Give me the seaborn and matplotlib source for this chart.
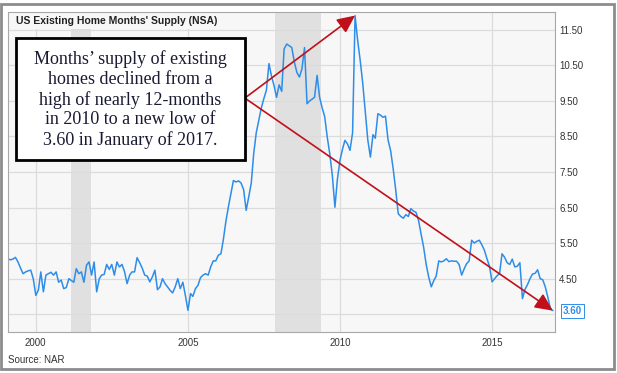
import numpy as np
import pandas as pd
import matplotlib
matplotlib.use("Agg")
import matplotlib.pyplot as plt
import matplotlib.dates as mdates
from matplotlib.patches import Rectangle
import seaborn as sns

# months' supply, NSA, monthly Feb 1999 .. Jan 2017
y1999 = [5.06, 5.03, 5.05, 5.10, 4.97, 4.80, 4.64, 4.69, 4.72, 4.74, 4.50]
y2000 = [4.03, 4.18, 4.69, 4.13, 4.60, 4.64, 4.68, 4.60, 4.69, 4.40, 4.46, 4.22]
y2001 = [4.25, 4.50, 4.45, 4.40, 4.78, 4.64, 4.69, 4.40, 4.88, 4.97, 4.60, 4.97]
y2002 = [4.13, 4.50, 4.60, 4.62, 4.90, 4.76, 4.90, 4.60, 4.97, 4.83, 4.90, 4.70]
y2003 = [4.36, 4.60, 4.69, 4.69, 5.09, 4.95, 4.80, 4.60, 4.57, 4.41, 4.55, 4.74]
y2004 = [4.19, 4.27, 4.50, 4.36, 4.27, 4.17, 4.10, 4.27, 4.50, 4.22, 4.40, 4.03]
y2005 = [3.61, 4.08, 4.00, 4.22, 4.31, 4.53, 4.60, 4.64, 4.60, 4.83, 5.00, 5.00]
y2006 = [5.16, 5.20, 5.58, 6.10, 6.51, 6.89, 7.26, 7.22, 7.25, 7.19, 7.00, 6.42]
y2007 = [6.80, 7.20, 8.00, 8.60, 8.95, 9.30, 9.56, 9.80, 10.55, 10.20, 9.93, 9.60]
y2008 = [9.95, 9.77, 10.96, 11.10, 11.05, 11.00, 10.60, 10.30, 10.17, 10.40, 11.00, 9.42]
y2009 = [9.50, 9.55, 9.60, 10.22, 9.60, 9.30, 9.06, 8.48, 8.00, 7.40, 6.51, 7.30]
y2010 = [7.83, 8.15, 8.39, 8.29, 8.11, 8.60, 11.90, 11.20, 10.63, 10.00, 9.20, 8.40]
y2011 = [7.92, 8.55, 8.45, 9.14, 9.10, 9.04, 9.07, 8.40, 8.10, 7.60, 7.00, 6.33]
y2012 = [6.25, 6.20, 6.30, 6.25, 6.47, 6.40, 6.37, 6.14, 5.75, 5.39, 4.90, 4.55]
y2013 = [4.27, 4.45, 4.57, 5.00, 4.97, 5.00, 5.06, 4.98, 5.00, 4.99, 4.99, 4.90]
y2014 = [4.60, 4.78, 4.92, 5.00, 5.58, 5.50, 5.55, 5.58, 5.45, 5.30, 5.06, 4.85]
y2015 = [4.41, 4.50, 4.58, 4.64, 5.20, 5.10, 4.95, 4.90, 5.05, 4.83, 4.85, 4.95]
y2016 = [3.94, 4.20, 4.33, 4.50, 4.63, 4.65, 4.75, 4.50, 4.47, 4.27, 3.98, 3.66]
y2017 = [3.60]

supply = (y1999 + y2000 + y2001 + y2002 + y2003 + y2004 + y2005 + y2006 + y2007
          + y2008 + y2009 + y2010 + y2011 + y2012 + y2013 + y2014 + y2015
          + y2016 + y2017)
dates = pd.date_range("1999-02-01", periods=len(supply), freq="MS")
df = pd.DataFrame({"date": dates, "supply": supply})

recessions = [("2001-03-01", "2001-10-25"), ("2007-11-10", "2009-05-18")]
y_ticks = [3.5, 4.5, 5.5, 6.5, 7.5, 8.5, 9.5, 10.5, 11.5]
y_labels = ["", "4.50", "5.50", "6.50", "7.50", "8.50", "9.50", "10.50", "11.50"]
x_years = [2000, 2005, 2010, 2015]

note = ("Months\u2019 supply of existing\nhomes declined from a\n"
        "high of nearly 12-months\nin 2010 to a new low of\n"
        "3.60 in January of 2017.")

BLUE = "#2e8de8"
RED = "#c0101a"
GRID = "#dcdcdc"

sns.set_style("white")
plt.rcParams["font.family"] = ["Liberation Sans", "DejaVu Sans"]

fig = plt.figure(figsize=(6.17, 3.73), dpi=100)
fig.patch.set_facecolor("white")
ax = fig.add_axes([8 / 617, 41 / 373, 547 / 617, 320 / 373])
ax.set_facecolor("#f7f7f7")

for start, end in recessions:
    ax.axvspan(pd.Timestamp(start), pd.Timestamp(end), color="#e0e0e0", lw=0, zorder=0.1)

sns.lineplot(data=df, x="date", y="supply", ax=ax, color=BLUE, linewidth=1.1, zorder=2)

ax.set_xlim(pd.Timestamp("1999-02-01"), pd.Timestamp("2017-01-26"))
ax.set_ylim(3.0, 12.0)
ax.set_xticks([pd.Timestamp(f"{y}-01-01") for y in x_years])
ax.xaxis.set_major_formatter(mdates.DateFormatter("%Y"))
ax.set_yticks(y_ticks)
ax.set_yticklabels(y_labels)
ax.yaxis.tick_right()
ax.tick_params(axis="both", length=0, labelsize=7, labelcolor="#333333")
ax.tick_params(axis="x", pad=4)
ax.tick_params(axis="y", pad=3)
ax.set_xlabel("")
ax.set_ylabel("")
ax.grid(True, color=GRID, linewidth=0.9)
ax.set_axisbelow(True)
for s in ax.spines.values():
    s.set_color("#a8a8a8")
    s.set_linewidth(0.8)

# title bar
ax.add_patch(Rectangle((0, 0.947), 0.397, 0.053, transform=ax.transAxes,
                       facecolor="#f7f7f7", edgecolor="none", zorder=1.5))
ax.text(0.0146, 0.972, "US Existing Home Months' Supply (NSA)", transform=ax.transAxes,
        fontsize=7.5, fontweight="bold", color="#222222", va="center", ha="left", zorder=3)

# annotation box + arrows
ax.add_patch(Rectangle((0.0146, 0.5375), 0.4184, 0.3815, transform=ax.transAxes,
                       facecolor="white", edgecolor="black", lw=2, zorder=4))
ax.text(0.224, 0.726, note, transform=ax.transAxes, ha="center", va="center",
        family=["Liberation Serif", "DejaVu Serif"], fontsize=13, color="#1a1a33",
        linespacing=1.22, zorder=5)

peak = df.loc[df["supply"].idxmax()]
last = df.iloc[-1]
for pt in (peak, last):
    ax.annotate("", xy=(pt["date"], pt["supply"]), xycoords="data",
                xytext=(0.433, 0.731), textcoords="axes fraction",
                arrowprops=dict(arrowstyle="-|>,head_length=0.6,head_width=0.28",
                                color=RED, lw=1.2, mutation_scale=18,
                                shrinkA=0, shrinkB=0), zorder=3)

ax.annotate(f"{last['supply']:.2f}", xy=(last["date"], last["supply"]),
            xytext=(7, 0), textcoords="offset points", va="center", ha="left",
            fontsize=7, fontweight="bold", color=BLUE, annotation_clip=False,
            bbox=dict(boxstyle="square,pad=0.2", fc="white", ec=BLUE, lw=0.7))

fig.text(8 / 617, 1 - 360 / 373, "Source: NAR", fontsize=7, color="#333333",
         va="center", ha="left")

fig.add_artist(Rectangle((1 / 617, 4 / 373), 613 / 617, 365 / 373,
                         transform=fig.transFigure, fill=False,
                         edgecolor="#8c8c8c", lw=2))

fig.savefig("out.png", dpi=100)
